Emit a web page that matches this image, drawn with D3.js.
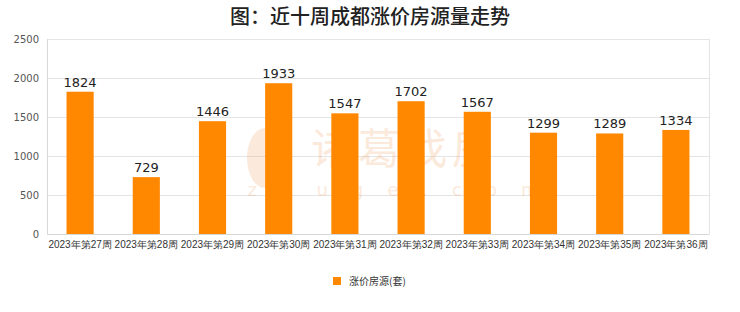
<!DOCTYPE html>
<html>
<head>
<meta charset="utf-8">
<script src="https://cdn.jsdelivr.net/npm/d3@7"></script>
<style>
  body { margin: 0; background: #fff; font-family: "Noto Sans CJK SC", "Noto Sans", sans-serif; }
</style>
</head>
<body>
<div id="chart"></div>
<script>
const weeks = ["2023年第27周", "2023年第28周", "2023年第29周", "2023年第30周", "2023年第31周",
               "2023年第32周", "2023年第33周", "2023年第34周", "2023年第35周", "2023年第36周"];
const counts = [1824, 729, 1446, 1933, 1547, 1702, 1567, 1299, 1289, 1334];
const yTicks = [0, 500, 1000, 1500, 2000, 2500];
const seriesName = "涨价房源(套)";

const width = 740, height = 312;
const margin = { top: 39, right: 31, bottom: 78, left: 47 };

let svg = d3.select("#chart")
            .append("svg")
            .attr("width", width)
            .attr("height", height);

let x = d3.scaleBand()
          .domain(weeks)
          .range([margin.left, width - margin.right])
          .paddingInner(0.59)
          .paddingOuter(0.295);

let y = d3.scaleLinear()
          .domain([0, 2500])
          .range([height - margin.bottom, margin.top]);

// title
svg.append("text")
   .attr("x", width / 2)
   .attr("y", 24)
   .attr("text-anchor", "middle")
   .attr("font-size", 20)
   .attr("font-weight", 500)
   .attr("fill", "#222")
   .text("图：近十周成都涨价房源量走势");

// grid
svg.append("g")
   .selectAll("line")
   .data(yTicks)
   .join("line")
   .attr("x1", margin.left)
   .attr("x2", width - margin.right)
   .attr("y1", (d) => y(d) + 0.5)
   .attr("y2", (d) => y(d) + 0.5)
   .attr("stroke", "#e4e4e4");

// left + right frame lines
svg.append("line")
   .attr("x1", margin.left + 0.5).attr("x2", margin.left + 0.5)
   .attr("y1", y(2500)).attr("y2", y(0))
   .attr("stroke", "#d8d8d8");
svg.append("line")
   .attr("x1", width - margin.right + 0.5).attr("x2", width - margin.right + 0.5)
   .attr("y1", y(2500)).attr("y2", y(0))
   .attr("stroke", "#e4e4e4");

// y axis
let yAxis = svg.append("g")
   .attr("transform", `translate(${margin.left},0)`)
   .call(d3.axisLeft(y).tickValues(yTicks).tickFormat(d3.format("d")).tickSize(0).tickPadding(8));
yAxis.select(".domain").remove();
yAxis.selectAll("text")
     .attr("font-size", 10)
     .attr("fill", "#555")
     .attr("font-family", "'DejaVu Sans', sans-serif");

// watermark
let wm = svg.append("g").attr("opacity", 0.22).attr("fill", "#f0a060");
wm.append("text")
  .attr("x", 405).attr("y", 164)
  .attr("text-anchor", "middle")
  .attr("font-size", 42)
  .attr("letter-spacing", 5)
  .text("诸葛找房");
wm.append("text")
  .attr("x", 405).attr("y", 196)
  .attr("text-anchor", "middle")
  .attr("font-size", 18)
  .attr("letter-spacing", 24)
  .attr("font-family", "'DejaVu Sans', sans-serif")
  .text("zhuge.com");
wm.append("ellipse")
  .attr("cx", 265).attr("cy", 158).attr("rx", 18).attr("ry", 30);

// bars
svg.selectAll(".bar")
   .data(counts)
   .join("rect")
   .attr("class", "bar")
   .attr("x", (d, i) => x(weeks[i]))
   .attr("y", (d) => y(d))
   .attr("width", x.bandwidth())
   .attr("height", (d) => y(0) - y(d))
   .attr("fill", "#ff8800");

// value labels
svg.selectAll(".val")
   .data(counts)
   .join("text")
   .attr("class", "val")
   .attr("x", (d, i) => x(weeks[i]) + x.bandwidth() / 2)
   .attr("y", (d) => y(d) - 5)
   .attr("text-anchor", "middle")
   .attr("font-size", 13)
   .attr("fill", "#222")
   .attr("font-family", "'DejaVu Sans', sans-serif")
   .text((d) => d);

// x axis labels
let xAxis = svg.append("g")
   .attr("transform", `translate(0,${y(0)})`)
   .call(d3.axisBottom(x).tickSize(0).tickPadding(7));
xAxis.select(".domain").attr("stroke", "#d8d8d8");
xAxis.selectAll("text")
     .attr("font-size", 10)
     .attr("fill", "#333");

// legend
let legend = svg.append("g").attr("transform", "translate(333,277)");
legend.append("rect")
      .attr("width", 8).attr("height", 8)
      .attr("fill", "#ff8800");
legend.append("text")
      .attr("x", 16).attr("y", 8)
      .attr("font-size", 10)
      .attr("fill", "#333")
      .text(seriesName);
</script>
</body>
</html>
